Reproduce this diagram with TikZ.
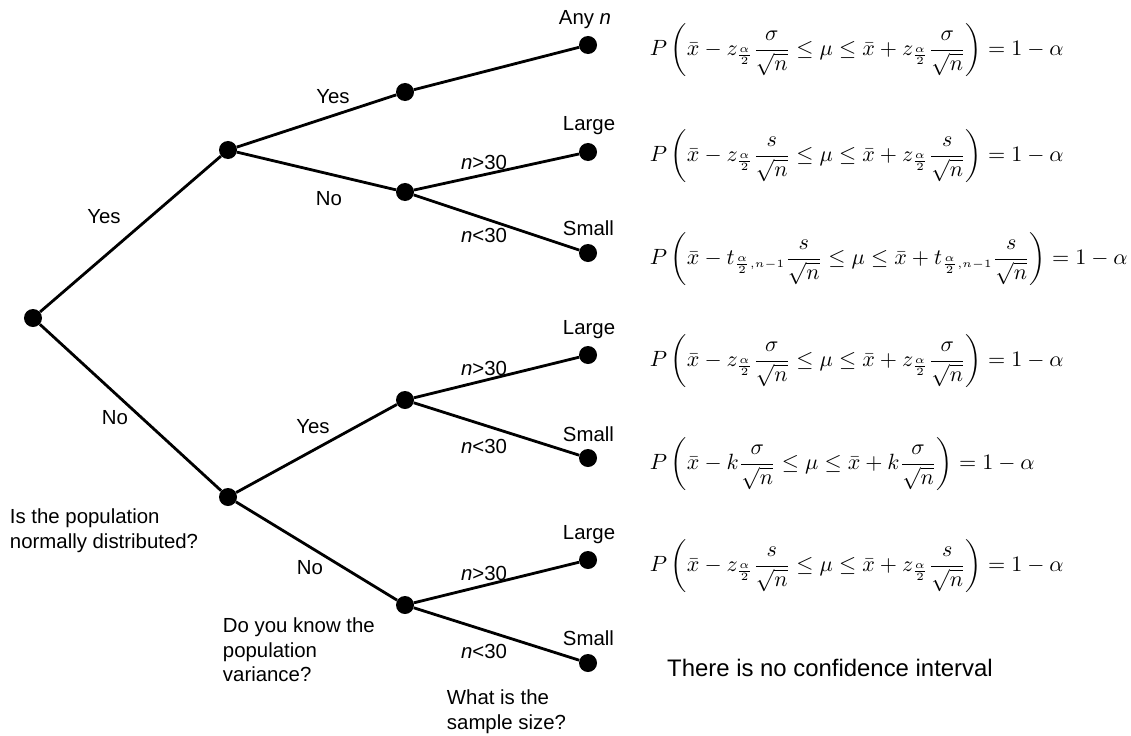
\documentclass[tikz,border=0pt]{standalone}
\usepackage{amsmath,amssymb}
\usepackage{fontspec}
\setsansfont{Liberation Sans}
\usepackage{tikz}

\newcommand{\confint}[2]{$\displaystyle P\left(\bar{x}-#1\frac{#2}{\sqrt{n}}\le\mu\le\bar{x}+#1\frac{#2}{\sqrt{n}}\right)=1-\alpha$}

\begin{document}
\begin{tikzpicture}[x=0.025cm,y=-0.025cm,
    dot/.style={circle,fill=black,inner sep=0pt,minimum size=0.45cm},
    branch/.style={line width=2pt},
    lbl/.style={font=\sffamily\fontsize{14.5}{17.5}\selectfont},
    question/.style={lbl,anchor=west,align=left},
    formula/.style={anchor=west,scale=1.57}]
    \useasboundingbox (0,0) rectangle (1131,736);

    % Decision points
    \node[dot] (root) at (33,318) {};
    \node[dot] (norm) at (228,150) {};
    \node[dot] (notnorm) at (228,497) {};
    \node[dot] (nvk) at (405,92) {};
    \node[dot] (nvu) at (405,192) {};
    \node[dot] (xvk) at (405,400) {};
    \node[dot] (xvu) at (405,605) {};

    % Leaves
    \node[dot] (l1) at (588,45) {};
    \node[dot] (l2) at (588,152) {};
    \node[dot] (l3) at (588,253) {};
    \node[dot] (l4) at (588,355) {};
    \node[dot] (l5) at (588,458) {};
    \node[dot] (l6) at (588,560) {};
    \node[dot] (l7) at (588,663) {};

    % Branches
    \draw[branch] (root) -- (norm);
    \draw[branch] (root) -- (notnorm);
    \draw[branch] (norm) -- (nvk);
    \draw[branch] (norm) -- (nvu);
    \draw[branch] (notnorm) -- (xvk);
    \draw[branch] (notnorm) -- (xvu);
    \draw[branch] (nvk) -- (l1);
    \draw[branch] (nvu) -- (l2);
    \draw[branch] (nvu) -- (l3);
    \draw[branch] (xvk) -- (l4);
    \draw[branch] (xvk) -- (l5);
    \draw[branch] (xvu) -- (l6);
    \draw[branch] (xvu) -- (l7);

    % Answers
    \node[lbl] at (104,217) {Yes};
    \node[lbl] at (115,418) {No};
    \node[lbl] at (333,97) {Yes};
    \node[lbl] at (329,199) {No};
    \node[lbl] at (313,427) {Yes};
    \node[lbl] at (310,568) {No};
    \node[lbl] at (484,162) {{\itshape n}>30};
    \node[lbl] at (484,235) {{\itshape n}<30};
    \node[lbl] at (484,368) {{\itshape n}>30};
    \node[lbl] at (484,446) {{\itshape n}<30};
    \node[lbl] at (484,573) {{\itshape n}>30};
    \node[lbl] at (484,651) {{\itshape n}<30};

    % Sample sizes
    \node[lbl] at (585,20) {Any {\itshape n}};
    \node[lbl,anchor=west] at (558,126) {Large};
    \node[lbl,anchor=west] at (558,228) {Small};
    \node[lbl,anchor=west] at (558,330) {Large};
    \node[lbl,anchor=west] at (558,434) {Small};
    \node[lbl,anchor=west] at (558,535) {Large};
    \node[lbl,anchor=west] at (558,638) {Small};

    % Questions
    \node[question] at (5,531) {Is the population\\normally distributed?};
    \node[question] at (218,650) {Do you know the\\population\\variance?};
    \node[question] at (442,712) {What is the\\sample size?};

    % Intervals
    \node[formula] at (642,50) {\confint{z_{\frac{\alpha}{2}}}{\sigma}};
    \node[formula] at (642,156) {\confint{z_{\frac{\alpha}{2}}}{s}};
    \node[formula] at (642,259) {\confint{t_{\frac{\alpha}{2}\scriptscriptstyle ,n-1}}{s}};
    \node[formula] at (642,361) {\confint{z_{\frac{\alpha}{2}}}{\sigma}};
    \node[formula] at (642,464) {\confint{k}{\sigma}};
    \node[formula] at (642,566) {\confint{z_{\frac{\alpha}{2}}}{s}};
    \node[lbl,font=\sffamily\fontsize{17}{20}\selectfont] at (830,668) {There is no confidence interval};
\end{tikzpicture}
\end{document}
